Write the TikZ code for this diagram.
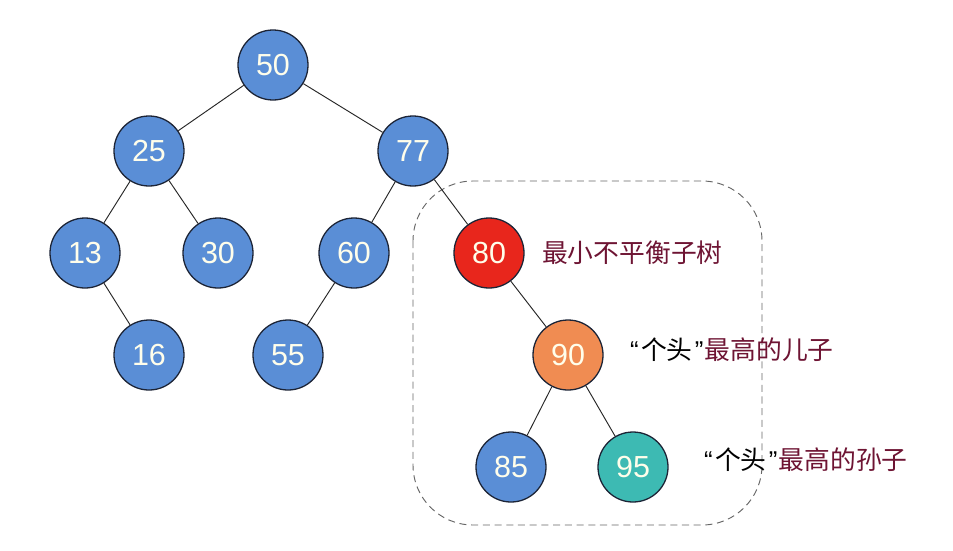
\documentclass[tikz,border=0pt]{standalone}
\usepackage{fontspec}
\setmainfont{Liberation Sans}
\newfontfamily\cjk{Noto Sans CJK SC}
\definecolor{keyblue}{HTML}{5A8ED6}
\definecolor{keyred}{HTML}{E8261C}
\definecolor{keyorange}{HTML}{F08C52}
\definecolor{keyteal}{HTML}{3DBAB3}
\definecolor{labred}{HTML}{6E1433}
\definecolor{keyline}{HTML}{1C2436}
\newcommand{\qt}[1]{{\color{black}{\rmfamily“}\hspace{2pt}#1\hspace{2pt}{\rmfamily”}\hspace{1pt}}}
\begin{document}
\begin{tikzpicture}[x=0.03cm,y=-0.03cm,
  key/.style={circle,draw=keyline,line width=1.1pt,minimum size=2.1cm,inner sep=0pt,
    fill=keyblue,text=white!92!yellow,font=\fontsize{26}{26}\selectfont},
  lab/.style={anchor=west,text=labred,font=\cjk\fontsize{22}{22}\selectfont},
  edge/.style={line width=0.8pt,black!85}]
  \useasboundingbox[fill=white] (0,0) rectangle (953,550);
  % the subtree
  \draw[gray!80!black,line width=0.8pt,dash pattern=on 6pt off 4pt,rounded corners=1.8cm]
    (413,181) rectangle (762,525);
  \node[key] (n50) at (273,65) {50};
  \node[key] (n25) at (149,151) {25};
  \node[key] (n77) at (413,151) {77};
  \node[key] (n13) at (85,253) {13};
  \node[key] (n30) at (218,253) {30};
  \node[key] (n60) at (354,253) {60};
  \node[key,fill=keyred] (n80) at (489,253) {80};
  \node[key] (n16) at (149,355) {16};
  \node[key] (n55) at (288,355) {55};
  \node[key,fill=keyorange] (n90) at (568,355) {90};
  \node[key] (n85) at (511,467) {85};
  \node[key,fill=keyteal] (n95) at (633,467) {95};
  \draw[edge] (n50) -- (n25);
  \draw[edge] (n50) -- (n77);
  \draw[edge] (n25) -- (n13);
  \draw[edge] (n25) -- (n30);
  \draw[edge] (n13) -- (n16);
  \draw[edge] (n77) -- (n60);
  \draw[edge] (n77) -- (n80);
  \draw[edge] (n60) -- (n55);
  \draw[edge] (n80) -- (n90);
  \draw[edge] (n90) -- (n85);
  \draw[edge] (n90) -- (n95);
  \node[lab] (t80) at (538,253) {最小不平衡子树};
  \node[lab] (t90) at (626,350) {\qt{个头}最高的儿子};
  \node[lab] (t95) at (700,460) {\qt{个头}最高的孙子};
\end{tikzpicture}
\end{document}
